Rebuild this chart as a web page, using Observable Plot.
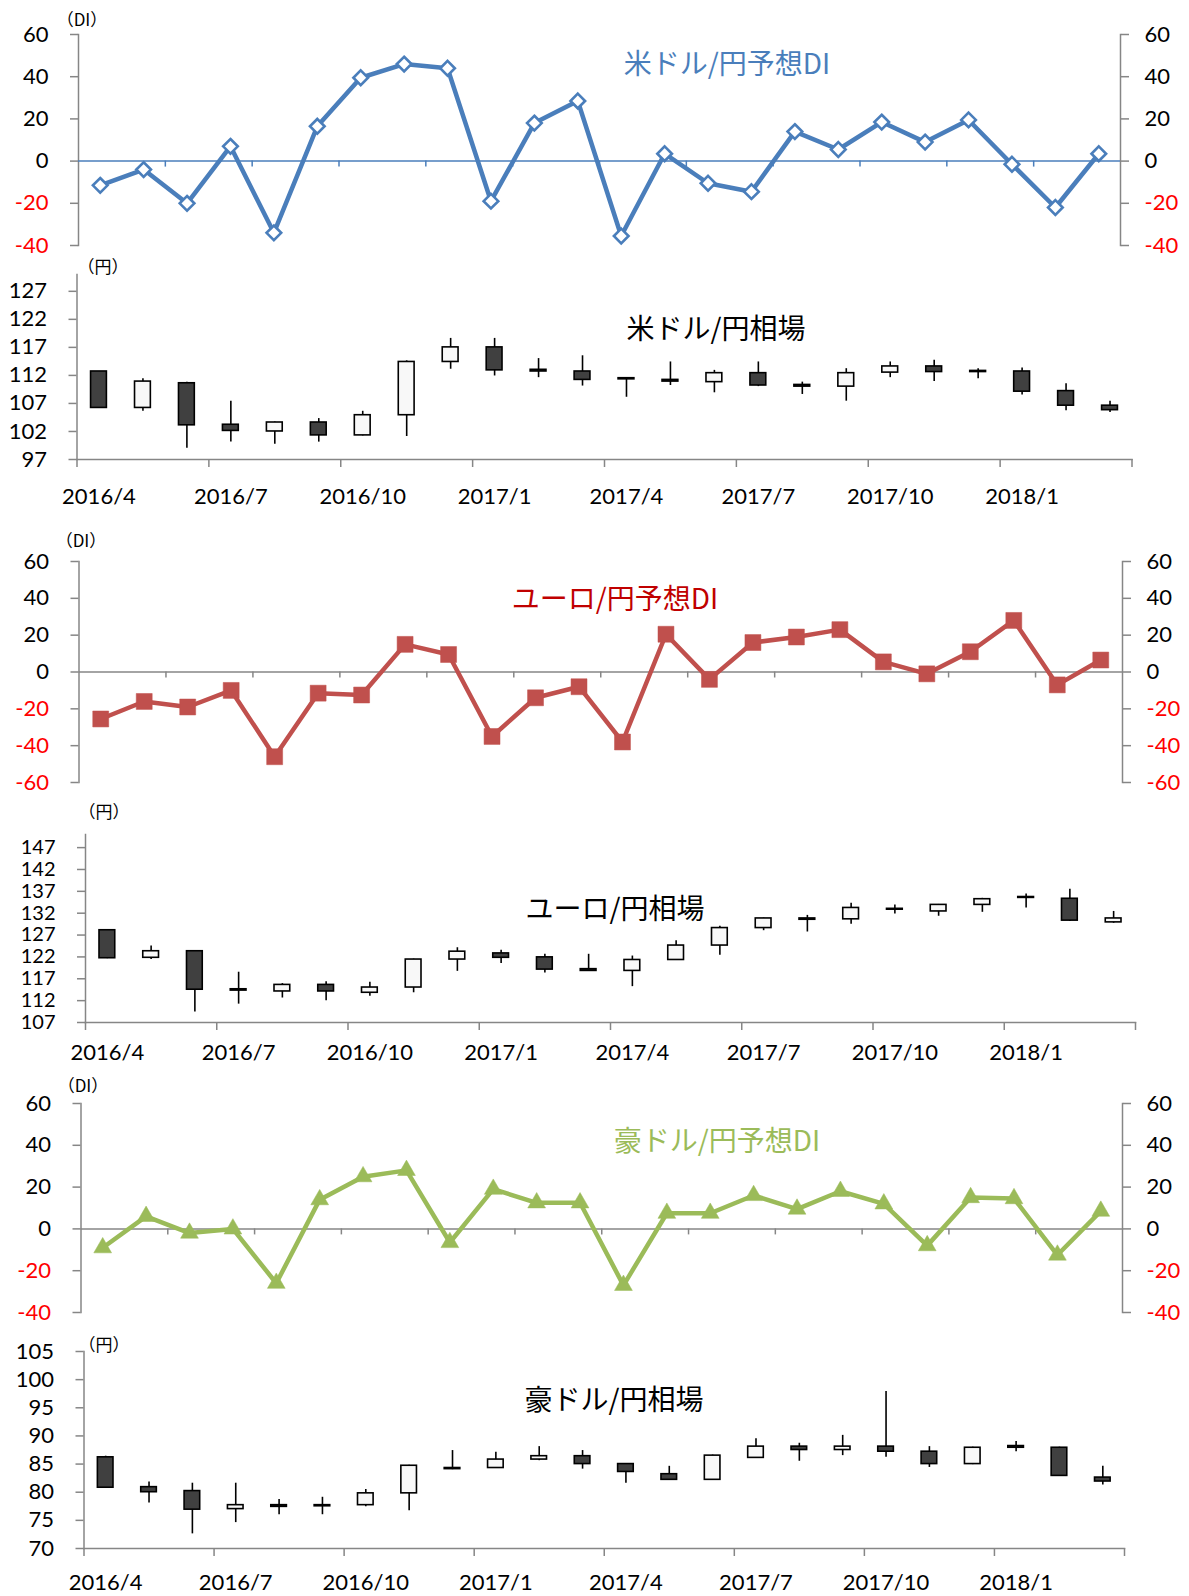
<!DOCTYPE html>
<html>
<head>
<meta charset="utf-8">
<script src="https://cdn.jsdelivr.net/npm/d3@7"></script>
<script src="https://cdn.jsdelivr.net/npm/@observablehq/plot@0.6"></script>
<style>
  html, body { margin: 0; padding: 0; background: #fff; }
  #root { position: relative; width: 1189px; height: 1596px; overflow: hidden; background: #fff; }
  .panel { position: absolute; left: 0; }
  .lbl { position: absolute; transform: translate(-50%, -50%); white-space: nowrap; font-family: "Noto Sans CJK JP", sans-serif; }
  .unit { font-size: 17px; color: #000; }
  .title { font-size: 28px; }
</style>
</head>
<body>
<div id="root"></div>
<script>
// ---- data ----
const tickLabels = ["2016/4","2016/7","2016/10","2017/1","2017/4","2017/7","2017/10","2018/1"];

const usdDI = [-11.5, -4, -20, 7, -34, 16.5, 39.5, 46, 44, -19, 18, 28.5, -35.5, 3.5, -10.5, -14.5, 14, 5.5, 18.5, 9, 19.5, -1.5, -22, 3.5];
const eurDI = [-25.5, -16, -19, -10, -46, -11.5, -12.5, 15, 9.5, -35, -14, -8, -38, 20.5, -4, 16, 19, 23, 5.5, -1, 11, 28, -7, 6.5];
const audDI = [-9, 6, -2, 0, -26, 14, 25, 28, -6.5, 19, 12.5, 12.5, -27, 7.5, 7.5, 16, 9.5, 18, 12, -8, 15, 14.5, -12.5, 8.5];

const usdOpen  = [112.7,106.2,110.6,103.2,102.0,103.6,101.3,104.9,114.4,117.0,113.0,112.7,111.5,111.2,110.8,112.4,110.3,110.0,112.5,113.6,112.8,112.7,109.2,106.6];
const usdHigh  = [112.7,111.4,110.8,107.4,103.7,104.3,105.6,114.6,118.6,118.6,115.0,115.5,111.6,114.4,112.9,114.4,110.8,113.2,114.4,114.7,113.2,113.3,110.5,107.4];
const usdLow   = [106.2,105.6, 99.0,100.1, 99.7,100.1,101.2,101.1,113.1,111.9,111.6,110.1,108.1,110.2,108.9,110.0,108.6,107.4,111.6,110.9,111.4,108.5,105.7,105.4];
const usdClose = [106.2,110.9,103.1,102.1,103.6,101.3,104.9,114.4,117.0,112.9,112.7,111.2,111.3,110.9,112.4,110.2,110.0,112.4,113.6,112.6,112.6,109.1,106.6,105.8];

const eurOpen  = [128.1,121.8,123.3,114.6,114.1,115.6,113.8,115.0,121.4,122.8,121.9,119.2,118.8,121.3,124.6,128.6,130.8,130.6,133.0,132.4,133.9,135.7,135.3,129.9];
const eurHigh  = [128.2,124.5,123.4,118.5,115.9,116.3,116.2,121.5,124.1,123.5,122.6,122.6,122.2,125.7,129.0,130.9,131.5,134.3,133.9,134.0,135.4,136.4,137.5,132.4];
const eurLow   = [121.6,121.4,109.4,111.2,112.6,112.0,113.0,113.8,118.7,120.5,118.3,118.7,115.2,121.2,122.4,128.0,127.7,129.5,131.8,131.3,132.2,133.2,130.1,129.7];
const eurClose = [121.7,123.3,114.5,114.3,115.6,114.1,115.0,121.4,123.2,121.8,119.1,118.8,121.3,124.6,128.6,130.8,130.5,133.2,132.8,133.9,135.2,135.5,130.3,130.8];

const audOpen  = [86.2,80.9,80.2,77.0,77.7,77.7,77.7,79.8,84.3,84.3,85.8,86.4,85.0,83.2,82.2,86.1,88.1,87.5,88.1,87.2,85.0,88.2,87.9,82.6];
const audHigh  = [86.4,81.8,81.6,81.6,78.7,79.1,80.5,84.8,87.4,87.1,88.1,87.4,85.1,84.6,86.6,89.5,88.7,90.1,97.9,88.1,88.0,89.0,88.0,84.6];
const audLow   = [80.7,78.1,72.6,74.6,76.0,76.0,77.4,76.7,84.0,84.2,85.6,84.1,81.6,82.1,82.1,86.0,85.5,86.5,86.2,84.4,84.9,87.2,82.8,81.3];
const audClose = [80.8,80.0,76.9,77.7,77.4,77.5,79.8,84.7,84.1,85.8,86.4,85.0,83.6,82.2,86.5,88.1,87.5,88.1,87.2,85.0,87.9,87.9,82.9,81.9];

// ---- helpers ----
const root = document.getElementById("root");
const N = 24;
const labelPos = d3.range(0, N, 3);            // category centers that carry a label
const catBounds = d3.range(-0.5, N, 3);        // boundaries every 3 months
const zeroBounds = d3.range(1.5, N - 1, 2);    // tick marks on the zero line

function place(el, top) {
  el.classList.add("panel");
  el.style.top = top + "px";
  root.appendChild(el);
}
function label(text, x, y, cls, color) {
  const d = document.createElement("div");
  d.className = "lbl " + cls;
  d.textContent = text;
  d.style.left = x + "px";
  d.style.top = y + "px";
  if (color) d.style.color = color;
  root.appendChild(d);
}
const AX = "#868686";
const baseStyle = {fontFamily: "Lato, 'DejaVu Sans', sans-serif", fontSize: "22px", background: "transparent", overflow: "visible", color: "#000"};

function diPanel({top, height, mt, mb, ml, mr, values, domain, ticks, color, zeroColor, marker}) {
  const data = values.map((v, i) => ({i, v}));
  const pos = ticks.filter(t => t >= 0), neg = ticks.filter(t => t < 0);
  const fmt = d => String(d);
  const dotOpts = marker === "diamond"
    ? {symbol: "diamond2", r: 6.6, fill: "white", stroke: color, strokeWidth: 2.6}
    : marker === "square"
    ? {symbol: "square", r: 9, fill: color, stroke: color, strokeWidth: 0.5}
    : {symbol: "triangle", r: 6.6, fill: color, stroke: color, strokeWidth: 0.5};
  const axOpts = {tickSize: 8, tickFormat: fmt, stroke: AX, strokeWidth: 1.5, label: null};
  const svg = Plot.plot({
    width: 1189, height, marginTop: mt, marginBottom: mb, marginLeft: ml, marginRight: mr,
    style: baseStyle,
    x: {domain: [-0.5, N - 0.5], axis: null},
    y: {domain, axis: null},
    marks: [
      Plot.frame({anchor: "left", stroke: AX, strokeWidth: 1.5}),
      Plot.frame({anchor: "right", stroke: AX, strokeWidth: 1.5}),
      Plot.axisY(pos, {anchor: "left", tickPadding: 22, fill: "#000", ...axOpts}),
      Plot.axisY(neg, {anchor: "left", tickPadding: 22, fill: "#FF0000", ...axOpts}),
      Plot.axisY(pos, {anchor: "right", tickPadding: 16, fill: "#000", ...axOpts}),
      Plot.axisY(neg, {anchor: "right", tickPadding: 16, fill: "#FF0000", ...axOpts}),
      Plot.ruleY([0], {stroke: zeroColor, strokeWidth: 1.5}),
      Plot.ruleX(zeroBounds, {x: d => d, y1: 0, y2: 0, insetBottom: -6, stroke: zeroColor, strokeWidth: 1.5}),
      Plot.line(data, {x: "i", y: "v", stroke: color, strokeWidth: 4.5, strokeLinejoin: "round"}),
      Plot.dot(data, {x: "i", y: "v", ...dotOpts})
    ]
  });
  place(svg, top);
}

function candlePanel({top, height, mt, mb, ml, mr, open, high, low, close, domain, ticks, pad, yFont}) {
  const data = open.map((o, i) => ({i, open: o, high: high[i], low: low[i], close: close[i]}));
  const svg = Plot.plot({
    width: 1189, height, marginTop: mt, marginBottom: mb, marginLeft: ml, marginRight: mr,
    style: baseStyle,
    x: {domain: [-0.5, N - 0.5], axis: null},
    y: {domain, axis: null},
    marks: [
      Plot.frame({anchor: "left", stroke: AX, strokeWidth: 1.5}),
      Plot.frame({anchor: "bottom", stroke: AX, strokeWidth: 1.5}),
      Plot.axisY(ticks, {anchor: "left", tickSize: 8, tickPadding: 22, tickFormat: d => String(d), stroke: AX, fill: "#000", strokeWidth: 1.5, label: null, fontSize: yFont}),
      Plot.axisX(catBounds, {anchor: "bottom", tickSize: 8, tickFormat: () => "", stroke: AX, strokeWidth: 1.5, label: null}),
      Plot.axisX(labelPos, {anchor: "bottom", tickSize: 0, tickPadding: pad, tickFormat: i => tickLabels[i / 3], fill: "#000", label: null}),
      Plot.ruleX(data, {x: "i", y1: "low", y2: "high", stroke: "#000", strokeWidth: 1.6}),
      Plot.rect(data, {x1: d => d.i - 0.18, x2: d => d.i + 0.18, y1: "open", y2: "close",
        fill: d => d.close < d.open ? "#404040" : "#F8F8F8", stroke: "#000", strokeWidth: 1.6})
    ]
  });
  place(svg, top);
}

// ---- panels ----
diPanel({top: 0, height: 260, mt: 34, mb: 15, ml: 78, mr: 69, values: usdDI, domain: [-40, 60],
  ticks: [-40, -20, 0, 20, 40, 60], color: "#4A7EBB", zeroColor: "#4A7EBB", marker: "diamond"});
candlePanel({top: 255, height: 254, mt: 19, mb: 50, ml: 76.5, mr: 57.5, pad: 29, yFont: 22,
  open: usdOpen, high: usdHigh, low: usdLow, close: usdClose, domain: [97, 130], ticks: d3.range(97, 128, 5)});
diPanel({top: 515, height: 282, mt: 46, mb: 15, ml: 78.5, mr: 67, values: eurDI, domain: [-60, 60],
  ticks: [-60, -40, -20, 0, 20, 40, 60], color: "#C0504D", zeroColor: AX, marker: "square"});
candlePanel({top: 800, height: 272, mt: 34, mb: 50, ml: 85, mr: 54, pad: 22, yFont: 20,
  open: eurOpen, high: eurHigh, low: eurLow, close: eurClose, domain: [107, 150], ticks: d3.range(107, 148, 5)});
diPanel({top: 1072, height: 254, mt: 31, mb: 14, ml: 80.5, mr: 67, values: audDI, domain: [-40, 60],
  ticks: [-40, -20, 0, 20, 40, 60], color: "#9BBB59", zeroColor: AX, marker: "triangle"});
candlePanel({top: 1326, height: 270, mt: 25, mb: 48, ml: 83.5, mr: 65, pad: 26, yFont: 22,
  open: audOpen, high: audHigh, low: audLow, close: audClose, domain: [70, 105], ticks: d3.range(70, 106, 5)});

// ---- texts ----
label("（DI）", 82, 18, "unit");
label("（円）", 103, 265, "unit");
label("（DI）", 81, 539, "unit");
label("（円）", 104, 810, "unit");
label("（DI）", 83, 1084, "unit");
label("（円）", 104, 1343, "unit");
label("米ドル/円予想DI", 727, 62, "title", "#4A7EBB");
label("米ドル/円相場", 716, 327, "title", "#000");
label("ユーロ/円予想DI", 615, 597, "title", "#C00000");
label("ユーロ/円相場", 615, 907, "title", "#000");
label("豪ドル/円予想DI", 717, 1139, "title", "#9BBB59");
label("豪ドル/円相場", 614, 1398, "title", "#000");
</script>
</body>
</html>
